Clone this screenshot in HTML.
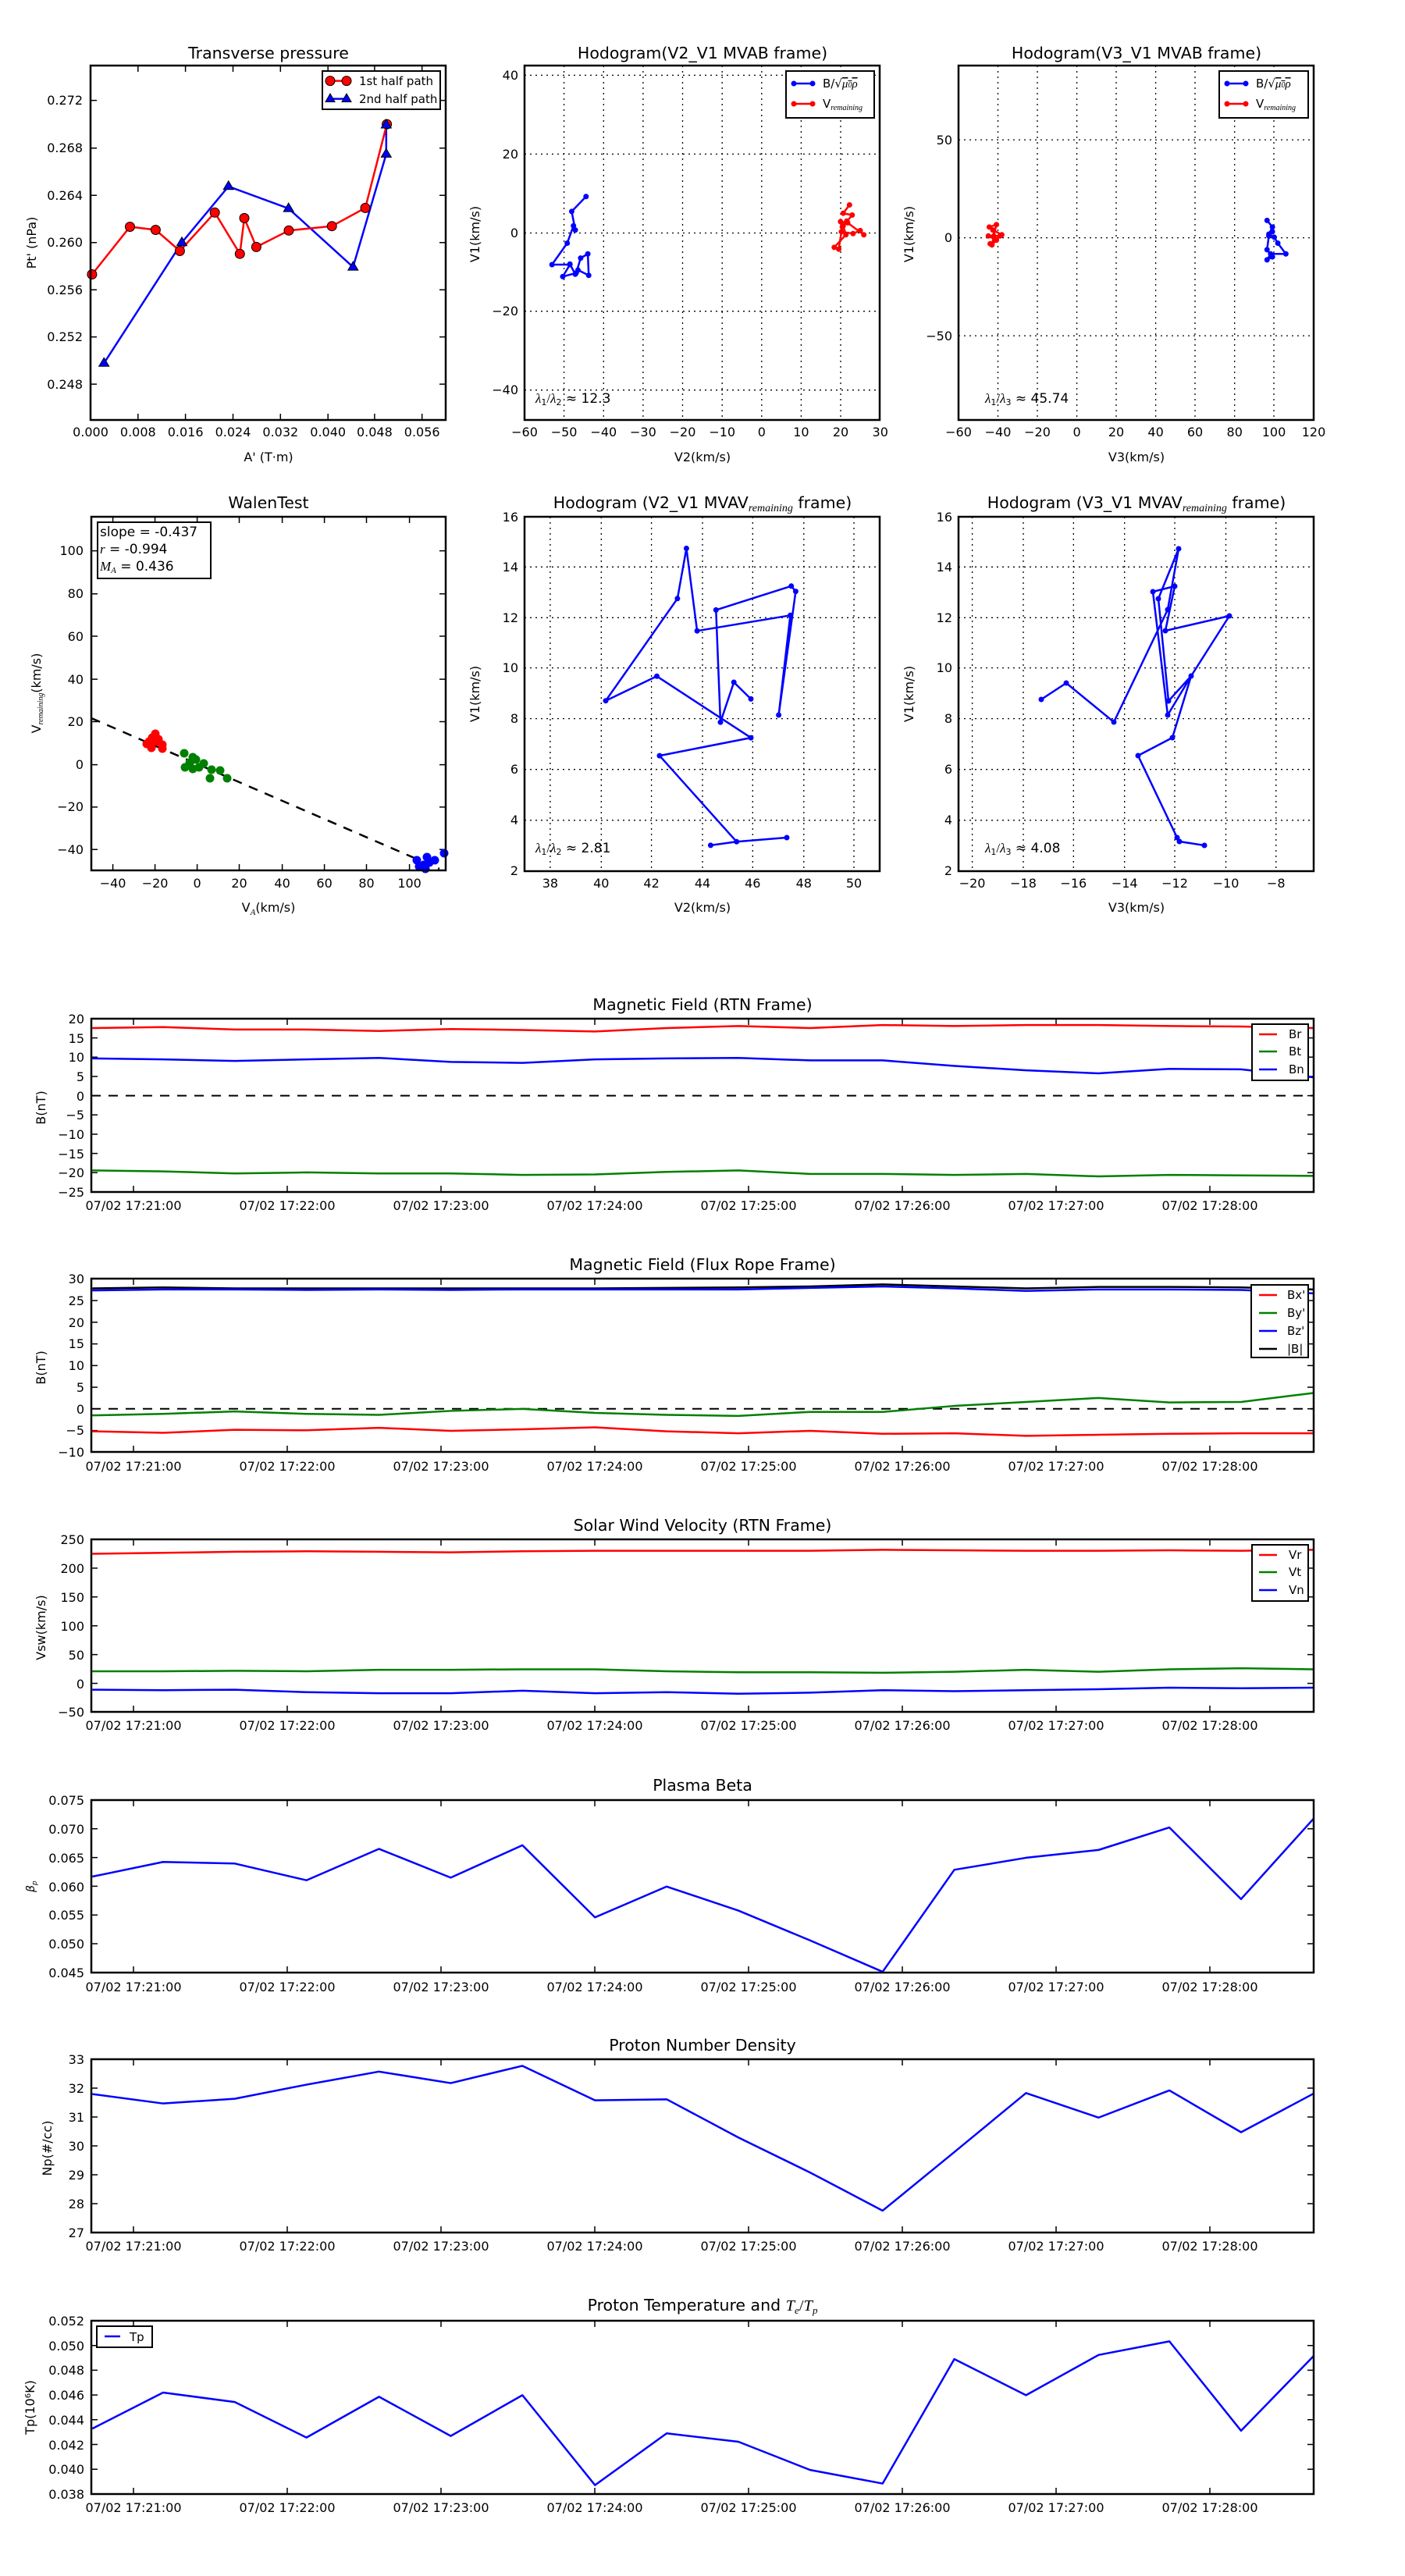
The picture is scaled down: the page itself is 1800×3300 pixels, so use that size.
<!DOCTYPE html>
<html><head><meta charset="utf-8"><style>
html,body{margin:0;padding:0;background:#fff;}
svg{display:block;}
text{font-family:"DejaVu Sans","Liberation Sans",sans-serif;fill:#000;}
.tk{font-size:16px;}
.ti{font-size:20.5px;text-anchor:middle;}
.lb{font-size:16px;text-anchor:middle;}
.ax{fill:none;stroke:#000;stroke-width:2.5;}
.ln{fill:none;stroke-width:2.5;vector-effect:non-scaling-stroke;stroke-linejoin:round;}
.gd{stroke:#000;stroke-width:1.3;stroke-dasharray:2,5;}
.tm{stroke:#000;stroke-width:1.5;}
.mk{fill:none;stroke-width:7;stroke-linecap:round;vector-effect:non-scaling-stroke;}
</style></head><body>
<svg width="1800" height="3300" viewBox="0 0 1800 3300" xmlns="http://www.w3.org/2000/svg">
<rect width="1800" height="3300" fill="#fff"/>

<!-- ============ P1 Transverse pressure ============ -->
<text class="ti" x="344" y="75">Transverse pressure</text>
<g class="tm">
<path d="M116 128.6h8M116 189.8h8M116 250.3h8M116 310.7h8M116 371.2h8M116 431.6h8M116 492.1h8"/>
<path d="M571 128.6h-8M571 189.8h-8M571 250.3h-8M571 310.7h-8M571 371.2h-8M571 431.6h-8M571 492.1h-8"/>
<path d="M176.8 538v-8M237.6 538v-8M298.5 538v-8M359.3 538v-8M420.2 538v-8M479.9 538v-8M540.7 538v-8"/>
<path d="M176.8 84v8M237.6 84v8M298.5 84v8M359.3 84v8M420.2 84v8M479.9 84v8M540.7 84v8"/>
</g>
<g class="tk" text-anchor="end">
<text x="106" y="134">0.272</text><text x="106" y="195">0.268</text><text x="106" y="256">0.264</text><text x="106" y="316">0.260</text><text x="106" y="377">0.256</text><text x="106" y="437">0.252</text><text x="106" y="498">0.248</text>
</g>
<g class="tk" text-anchor="middle">
<text x="116" y="559">0.000</text><text x="176.8" y="559">0.008</text><text x="237.6" y="559">0.016</text><text x="298.5" y="559">0.024</text><text x="359.3" y="559">0.032</text><text x="420.2" y="559">0.040</text><text x="479.9" y="559">0.048</text><text x="540.7" y="559">0.056</text>
</g>
<text class="lb" x="344" y="591">A' (T·m)</text>
<text class="lb" transform="translate(46,311) rotate(-90)">Pt' (nPa)</text>
<polyline fill="none" stroke="#00f" stroke-width="2.5" points="133.2,465.3 233,310.7 292.7,238.8 369.7,267.1 452.3,342.1 494.8,197.4 494.8,160"/>
<polyline fill="none" stroke="#f00" stroke-width="2.5" points="117.9,351.5 166.5,290.5 199.4,294.5 230.4,321.5 275.2,272.3 307.3,325.2 313,279.4 328.4,316.4 370,295.3 425.2,289.7 468,266.4 495.6,159.1"/>
<g fill="#f00" stroke="#000" stroke-width="1">
<circle cx="117.9" cy="351.5" r="6"/><circle cx="166.5" cy="290.5" r="6"/><circle cx="199.4" cy="294.5" r="6"/><circle cx="230.4" cy="321.5" r="6"/><circle cx="275.2" cy="272.3" r="6"/><circle cx="307.3" cy="325.2" r="6"/><circle cx="313" cy="279.4" r="6"/><circle cx="328.4" cy="316.4" r="6"/><circle cx="370" cy="295.3" r="6"/><circle cx="425.2" cy="289.7" r="6"/><circle cx="468" cy="266.4" r="6"/><circle cx="495.6" cy="159.1" r="6"/>
</g>
<g fill="#00f" stroke="#000" stroke-width="1">
<path d="M133.2 458.3l6.5 11h-13z"/><path d="M233 303.7l6.5 11h-13z"/><path d="M292.7 231.8l6.5 11h-13z"/><path d="M369.7 260.1l6.5 11h-13z"/><path d="M452.3 335.1l6.5 11h-13z"/><path d="M494.8 190.4l6.5 11h-13z"/><path d="M494.8 153l6.5 11h-13z"/>
</g>
<rect x="413" y="91" width="151" height="49" fill="#fff" stroke="#000" stroke-width="2"/>
<path d="M423 103.6h21" stroke="#f00" stroke-width="2.5"/>
<circle cx="423" cy="103.6" r="6" fill="#f00" stroke="#000"/><circle cx="444" cy="103.6" r="6" fill="#f00" stroke="#000"/>
<path d="M423 126.6h21" stroke="#00f" stroke-width="2.5"/>
<path d="M423 120l6 10.5h-12z M444 120l6 10.5h-12z" fill="#00f" stroke="#000"/>
<text x="460" y="109" font-size="15">1st half path</text>
<text x="460" y="132" font-size="15">2nd half path</text>
<rect class="ax" x="116" y="84" width="455" height="454"/>

<!-- ============ P2 Hodogram V2_V1 MVAB ============ -->
<text class="ti" x="900" y="75">Hodogram(V2_V1 MVAB frame)</text>
<g class="gd">
<path d="M722.6 84V538M773.3 84V538M823.9 84V538M874.5 84V538M925.2 84V538M975.8 84V538M1026.4 84V538M1077 84V538"/>
<path d="M672 96.4H1127M672 197.4H1127M672 298.5H1127M672 398.7H1127M672 499.7H1127"/>
</g>
<g class="tk" text-anchor="end">
<text x="664" y="102">40</text><text x="664" y="203">20</text><text x="664" y="304">0</text><text x="664" y="404">−20</text><text x="664" y="505">−40</text>
</g>
<g class="tk" text-anchor="middle">
<text x="672" y="559">−60</text><text x="722.6" y="559">−50</text><text x="773.3" y="559">−40</text><text x="823.9" y="559">−30</text><text x="874.5" y="559">−20</text><text x="925.2" y="559">−10</text><text x="975.8" y="559">0</text><text x="1026.4" y="559">10</text><text x="1077" y="559">20</text><text x="1127.7" y="559">30</text>
</g>
<text class="lb" x="900" y="591">V2(km/s)</text>
<text class="lb" transform="translate(614,300) rotate(-90)">V1(km/s)</text>
<g transform="scale(1.148,0.7653)">
<polyline class="ln" stroke="#00f" points="654,329 638,354 642,385 640,378 633,407 616,443 636,443 628,463 643,457 648,432 656,425 657,461 645,452 642,459 636,442"/>
<path class="mk" stroke="#00f" d="M654 329h0M638 354h0M642 385h0M640 378h0M633 407h0M616 443h0M636 443h0M628 463h0M643 457h0M648 432h0M656 425h0M657 461h0M645 452h0M642 459h0M636 442h0"/>
<polyline class="ln" stroke="#f00" points="948,343 941,357 951,360 941,378 944,393 931,414 936,417 939,388 952,391 960,386 964,393 946,373 938,371 940,380 945,370"/>
<path class="mk" stroke="#f00" d="M948 343h0M941 357h0M951 360h0M941 378h0M944 393h0M931 414h0M936 417h0M939 388h0M952 391h0M960 386h0M964 393h0M946 373h0M938 371h0M940 380h0M945 370h0"/>
</g>
<rect x="1007" y="91" width="113" height="60" fill="#fff" stroke="#000" stroke-width="2"/>
<path d="M1017 107h24" stroke="#00f" stroke-width="2.5"/><circle cx="1017" cy="107" r="3.5" fill="#00f"/><circle cx="1041" cy="107" r="3.5" fill="#00f"/>
<path d="M1017 133h24" stroke="#f00" stroke-width="2.5"/><circle cx="1017" cy="133" r="3.5" fill="#f00"/><circle cx="1041" cy="133" r="3.5" fill="#f00"/>
<text x="1054" y="112" font-size="15">B/√<tspan font-style="italic" font-family="Liberation Serif" text-decoration="overline">μ<tspan font-size="10">0</tspan>ρ</tspan></text>
<text x="1054" y="138" font-size="15">V<tspan font-size="10" font-style="italic" font-family="Liberation Serif" dy="3">remaining</tspan></text>
<text x="686" y="516" font-size="17"><tspan font-style="italic" font-family="Liberation Serif">λ</tspan><tspan font-size="11" dy="3">1</tspan><tspan dy="-3" font-family="Liberation Serif">/</tspan><tspan font-style="italic" font-family="Liberation Serif">λ</tspan><tspan font-size="11" dy="3">2</tspan><tspan dy="-3"> ≈ 12.3</tspan></text>
<rect class="ax" x="672" y="84" width="455" height="454"/>

<!-- ============ P3 Hodogram V3_V1 MVAB ============ -->
<text class="ti" x="1456" y="75">Hodogram(V3_V1 MVAB frame)</text>
<g class="gd">
<path d="M1278.5 84V538M1329 84V538M1379.6 84V538M1430 84V538M1480.6 84V538M1531 84V538M1581.7 84V538M1632 84V538"/>
<path d="M1228 179.1H1683M1228 304.6H1683M1228 430.1H1683"/>
</g>
<g class="tk" text-anchor="end">
<text x="1220" y="185">50</text><text x="1220" y="310">0</text><text x="1220" y="436">−50</text>
</g>
<g class="tk" text-anchor="middle">
<text x="1228" y="559">−60</text><text x="1278.5" y="559">−40</text><text x="1329" y="559">−20</text><text x="1379.6" y="559">0</text><text x="1430" y="559">20</text><text x="1480.6" y="559">40</text><text x="1531" y="559">60</text><text x="1581.7" y="559">80</text><text x="1632" y="559">100</text><text x="1683" y="559">120</text>
</g>
<text class="lb" x="1456" y="591">V3(km/s)</text>
<text class="lb" transform="translate(1170,300) rotate(-90)">V1(km/s)</text>
<g transform="scale(1.148,0.7653)">
<polyline class="ln" stroke="#00f" points="1414,369 1420,380 1416,392 1422,397 1426,407 1435,425 1418,425 1414,435 1420,430 1414,418 1416,395 1420,388"/>
<path class="mk" stroke="#00f" d="M1414 369h0M1420 380h0M1416 392h0M1422 397h0M1426 407h0M1435 425h0M1418 425h0M1414 435h0M1420 430h0M1414 418h0M1416 395h0M1420 388h0"/>
<polyline class="ln" stroke="#f00" points="1104,380 1112,376 1109,395 1107,410 1116,395 1103,395 1112,402 1108,385 1118,393 1105,408"/>
<path class="mk" stroke="#f00" d="M1104 380h0M1112 376h0M1109 395h0M1107 410h0M1116 395h0M1103 395h0M1112 402h0M1108 385h0M1118 393h0M1105 408h0"/>
</g>
<rect x="1562" y="91" width="114" height="60" fill="#fff" stroke="#000" stroke-width="2"/>
<path d="M1572 107h24" stroke="#00f" stroke-width="2.5"/><circle cx="1572" cy="107" r="3.5" fill="#00f"/><circle cx="1596" cy="107" r="3.5" fill="#00f"/>
<path d="M1572 133h24" stroke="#f00" stroke-width="2.5"/><circle cx="1572" cy="133" r="3.5" fill="#f00"/><circle cx="1596" cy="133" r="3.5" fill="#f00"/>
<text x="1609" y="112" font-size="15">B/√<tspan font-style="italic" font-family="Liberation Serif" text-decoration="overline">μ<tspan font-size="10">0</tspan>ρ</tspan></text>
<text x="1609" y="138" font-size="15">V<tspan font-size="10" font-style="italic" font-family="Liberation Serif" dy="3">remaining</tspan></text>
<text x="1262" y="516" font-size="17"><tspan font-style="italic" font-family="Liberation Serif">λ</tspan><tspan font-size="11" dy="3">1</tspan><tspan dy="-3" font-family="Liberation Serif">/</tspan><tspan font-style="italic" font-family="Liberation Serif">λ</tspan><tspan font-size="11" dy="3">3</tspan><tspan dy="-3"> ≈ 45.74</tspan></text>
<rect class="ax" x="1228" y="84" width="455" height="454"/>

<!-- ============ Walen ============ -->
<text class="ti" x="344" y="651">WalenTest</text>
<g class="tm">
<path d="M117 705.6h8M117 760.7h8M117 815h8M117 870.1h8M117 924.5h8M117 979.6h8M117 1033.9h8M117 1088.3h8"/>
<path d="M571 705.6h-8M571 760.7h-8M571 815h-8M571 870.1h-8M571 924.5h-8M571 979.6h-8M571 1033.9h-8M571 1088.3h-8"/>
<path d="M144.6 1115v-8M198.6 1115v-8M252.6 1115v-8M306.5 1115v-8M361.6 1115v-8M415.6 1115v-8M469.5 1115v-8M524.6 1115v-8"/>
<path d="M144.6 662v8M198.6 662v8M252.6 662v8M306.5 662v8M361.6 662v8M415.6 662v8M469.5 662v8M524.6 662v8"/>
</g>
<g class="tk" text-anchor="end">
<text x="107" y="711">100</text><text x="107" y="766">80</text><text x="107" y="821">60</text><text x="107" y="876">40</text><text x="107" y="930">20</text><text x="107" y="985">0</text><text x="107" y="1039">−20</text><text x="107" y="1094">−40</text>
</g>
<g class="tk" text-anchor="middle">
<text x="144.6" y="1137">−40</text><text x="198.6" y="1137">−20</text><text x="252.6" y="1137">0</text><text x="306.5" y="1137">20</text><text x="361.6" y="1137">40</text><text x="415.6" y="1137">60</text><text x="469.5" y="1137">80</text><text x="524.6" y="1137">100</text>
</g>
<text class="lb" x="344" y="1168">V<tspan font-size="11" font-style="italic" font-family="Liberation Serif" dy="4">A</tspan><tspan dy="-4">(km/s)</tspan></text>
<text class="lb" transform="translate(52,888) rotate(-90)">V<tspan font-size="10" font-style="italic" font-family="Liberation Serif" dy="3">remaining</tspan><tspan dy="-3">(km/s)</tspan></text>
<path d="M117 920L563 1113" stroke="#000" stroke-width="2.5" stroke-dasharray="12,10"/>
<g fill="#f00">
<circle cx="199" cy="940" r="5.5"/><circle cx="195" cy="945" r="5.5"/><circle cx="203" cy="947" r="5.5"/><circle cx="188" cy="953" r="5.5"/><circle cx="194" cy="958" r="5.5"/><circle cx="208" cy="954" r="5.5"/><circle cx="208" cy="959" r="5.5"/><circle cx="200" cy="950" r="5.5"/><circle cx="191" cy="950" r="5.5"/>
</g>
<g fill="#008000">
<circle cx="236" cy="965" r="5.5"/><circle cx="247" cy="970" r="5.5"/><circle cx="251" cy="973" r="5.5"/><circle cx="237" cy="983" r="5.5"/><circle cx="247" cy="985" r="5.5"/><circle cx="255" cy="983" r="5.5"/><circle cx="261" cy="978" r="5.5"/><circle cx="271" cy="986" r="5.5"/><circle cx="282" cy="987" r="5.5"/><circle cx="269" cy="997" r="5.5"/><circle cx="291" cy="997" r="5.5"/><circle cx="243" cy="977" r="5.5"/>
</g>
<g fill="#00f">
<circle cx="534" cy="1102" r="5.5"/><circle cx="547" cy="1098" r="5.5"/><circle cx="557" cy="1102" r="5.5"/><circle cx="543" cy="1108" r="5.5"/><circle cx="537" cy="1110" r="5.5"/><circle cx="550" cy="1105" r="5.5"/><circle cx="569" cy="1093" r="5.5"/><circle cx="545" cy="1113" r="5.5"/>
</g>
<rect x="125" y="669" width="145" height="72" fill="#fff" stroke="#000" stroke-width="2"/>
<text x="128" y="687" font-size="17">slope = -0.437</text>
<text x="128" y="709" font-size="17"><tspan font-style="italic" font-family="Liberation Serif">r</tspan> = -0.994</text>
<text x="128" y="731" font-size="17"><tspan font-style="italic" font-family="Liberation Serif">M</tspan><tspan font-size="11" font-style="italic" font-family="Liberation Serif" dy="3">A</tspan><tspan dy="-3"> = 0.436</tspan></text>
<rect class="ax" x="117" y="662" width="454" height="453"/>

<!-- ============ H2 row2 ============ -->
<text class="ti" x="900" y="651">Hodogram (V2_V1 MVAV<tspan font-size="14" font-style="italic" font-family="Liberation Serif" dy="4">remaining</tspan><tspan dy="-4"> frame)</tspan></text>
<g class="gd">
<path d="M704.9 662V1116M770.3 662V1116M834.6 662V1116M900 662V1116M964.3 662V1116M1029.8 662V1116M1094 662V1116"/>
<path d="M672 726.3H1127M672 791.3H1127M672 855.6H1127M672 920.6H1127M672 985.7H1127M672 1050.8H1127"/>
</g>
<g class="tk" text-anchor="end">
<text x="664" y="668">16</text><text x="664" y="732">14</text><text x="664" y="797">12</text><text x="664" y="861">10</text><text x="664" y="926">8</text><text x="664" y="991">6</text><text x="664" y="1056">4</text><text x="664" y="1121">2</text>
</g>
<g class="tk" text-anchor="middle">
<text x="704.9" y="1137">38</text><text x="770.3" y="1137">40</text><text x="834.6" y="1137">42</text><text x="900" y="1137">44</text><text x="964.3" y="1137">46</text><text x="1029.8" y="1137">48</text><text x="1094" y="1137">50</text>
</g>
<text class="lb" x="900" y="1168">V2(km/s)</text>
<text class="lb" transform="translate(614,889) rotate(-90)">V1(km/s)</text>
<polyline fill="none" stroke="#00f" stroke-width="2.5" stroke-linejoin="round" points="962,895.4 940.2,874 923,925.2 917.3,781.4 1013.7,750.8 1019.4,757.6 997.6,916 1012.5,788.3 893.1,808.2 879.4,702.5 867.9,766.8 776,897.7 841.5,866.3 962,945.1 845,968.1 943.7,1078.3 1008,1073"/>
<path d="M943.7 1078.3L910.4 1082.9" stroke="#00f" stroke-width="2.5"/>
<g fill="#00f"><circle cx="962" cy="895.4" r="3.5"/><circle cx="940.2" cy="874" r="3.5"/><circle cx="923" cy="925.2" r="3.5"/><circle cx="917.3" cy="781.4" r="3.5"/><circle cx="1013.7" cy="750.8" r="3.5"/><circle cx="1019.4" cy="757.6" r="3.5"/><circle cx="997.6" cy="916" r="3.5"/><circle cx="1012.5" cy="788.3" r="3.5"/><circle cx="893.1" cy="808.2" r="3.5"/><circle cx="879.4" cy="702.5" r="3.5"/><circle cx="867.9" cy="766.8" r="3.5"/><circle cx="776" cy="897.7" r="3.5"/><circle cx="841.5" cy="866.3" r="3.5"/><circle cx="962" cy="945.1" r="3.5"/><circle cx="845" cy="968.1" r="3.5"/><circle cx="943.7" cy="1078.3" r="3.5"/><circle cx="1008" cy="1073" r="3.5"/><circle cx="910.4" cy="1082.9" r="3.5"/></g>
<text x="686" y="1092" font-size="17"><tspan font-style="italic" font-family="Liberation Serif">λ</tspan><tspan font-size="11" dy="3">1</tspan><tspan dy="-3" font-family="Liberation Serif">/</tspan><tspan font-style="italic" font-family="Liberation Serif">λ</tspan><tspan font-size="11" dy="3">2</tspan><tspan dy="-3"> ≈ 2.81</tspan></text>
<rect class="ax" x="672" y="662" width="455" height="454"/>

<!-- ============ H3 row2 ============ -->
<text class="ti" x="1456" y="651">Hodogram (V3_V1 MVAV<tspan font-size="14" font-style="italic" font-family="Liberation Serif" dy="4">remaining</tspan><tspan dy="-4"> frame)</tspan></text>
<g class="gd">
<path d="M1245.6 662V1116M1311 662V1116M1375.3 662V1116M1440.7 662V1116M1505 662V1116M1570.5 662V1116M1634.8 662V1116"/>
<path d="M1228 726.3H1683M1228 791.3H1683M1228 855.6H1683M1228 920.6H1683M1228 985.7H1683M1228 1050.8H1683"/>
</g>
<g class="tk" text-anchor="end">
<text x="1220" y="668">16</text><text x="1220" y="732">14</text><text x="1220" y="797">12</text><text x="1220" y="861">10</text><text x="1220" y="926">8</text><text x="1220" y="991">6</text><text x="1220" y="1056">4</text><text x="1220" y="1121">2</text>
</g>
<g class="tk" text-anchor="middle">
<text x="1245.6" y="1137">−20</text><text x="1311" y="1137">−18</text><text x="1375.3" y="1137">−16</text><text x="1440.7" y="1137">−14</text><text x="1505" y="1137">−12</text><text x="1570.5" y="1137">−10</text><text x="1634.8" y="1137">−8</text>
</g>
<text class="lb" x="1456" y="1168">V3(km/s)</text>
<text class="lb" transform="translate(1170,889) rotate(-90)">V1(km/s)</text>
<polyline fill="none" stroke="#00f" stroke-width="2.5" stroke-linejoin="round" points="1334,896 1366,875 1427,925 1496,781 1510,703 1484,767 1497,898 1526,866 1496,916 1477,758 1505,751 1493,808 1575,789 1526,866 1502,945 1458,968 1508,1073 1511,1078 1543,1083"/>
<g fill="#00f"><circle cx="1334" cy="896" r="3.5"/><circle cx="1366" cy="875" r="3.5"/><circle cx="1427" cy="925" r="3.5"/><circle cx="1496" cy="781" r="3.5"/><circle cx="1510" cy="703" r="3.5"/><circle cx="1484" cy="767" r="3.5"/><circle cx="1497" cy="898" r="3.5"/><circle cx="1526" cy="866" r="3.5"/><circle cx="1496" cy="916" r="3.5"/><circle cx="1477" cy="758" r="3.5"/><circle cx="1505" cy="751" r="3.5"/><circle cx="1493" cy="808" r="3.5"/><circle cx="1575" cy="789" r="3.5"/><circle cx="1502" cy="945" r="3.5"/><circle cx="1458" cy="968" r="3.5"/><circle cx="1508" cy="1073" r="3.5"/><circle cx="1511" cy="1078" r="3.5"/><circle cx="1543" cy="1083" r="3.5"/></g>
<text x="1262" y="1092" font-size="17"><tspan font-style="italic" font-family="Liberation Serif">λ</tspan><tspan font-size="11" dy="3">1</tspan><tspan dy="-3" font-family="Liberation Serif">/</tspan><tspan font-style="italic" font-family="Liberation Serif">λ</tspan><tspan font-size="11" dy="3">3</tspan><tspan dy="-3"> ≈ 4.08</tspan></text>
<rect class="ax" x="1228" y="662" width="455" height="454"/>

<!-- ============ Time series common x ticks ============ -->
<g class="tm">
<path d="M171 1305v8M368 1305v8M565 1305v8M762 1305v8M959 1305v8M1156 1305v8M1353 1305v8M1550 1305v8 M171 1527v-8M368 1527v-8M565 1527v-8M762 1527v-8M959 1527v-8M1156 1527v-8M1353 1527v-8M1550 1527v-8"/>
<path d="M171 1638v8M368 1638v8M565 1638v8M762 1638v8M959 1638v8M1156 1638v8M1353 1638v8M1550 1638v8 M171 1860v-8M368 1860v-8M565 1860v-8M762 1860v-8M959 1860v-8M1156 1860v-8M1353 1860v-8M1550 1860v-8"/>
<path d="M171 1972v8M368 1972v8M565 1972v8M762 1972v8M959 1972v8M1156 1972v8M1353 1972v8M1550 1972v8 M171 2193v-8M368 2193v-8M565 2193v-8M762 2193v-8M959 2193v-8M1156 2193v-8M1353 2193v-8M1550 2193v-8"/>
<path d="M171 2306v8M368 2306v8M565 2306v8M762 2306v8M959 2306v8M1156 2306v8M1353 2306v8M1550 2306v8 M171 2527v-8M368 2527v-8M565 2527v-8M762 2527v-8M959 2527v-8M1156 2527v-8M1353 2527v-8M1550 2527v-8"/>
<path d="M171 2638v8M368 2638v8M565 2638v8M762 2638v8M959 2638v8M1156 2638v8M1353 2638v8M1550 2638v8 M171 2860v-8M368 2860v-8M565 2860v-8M762 2860v-8M959 2860v-8M1156 2860v-8M1353 2860v-8M1550 2860v-8"/>
<path d="M171 2973v8M368 2973v8M565 2973v8M762 2973v8M959 2973v8M1156 2973v8M1353 2973v8M1550 2973v8 M171 3195v-8M368 3195v-8M565 3195v-8M762 3195v-8M959 3195v-8M1156 3195v-8M1353 3195v-8M1550 3195v-8"/>
</g>
<g class="tk" text-anchor="middle">
<text x="171" y="1550">07/02 17:21:00</text><text x="368" y="1550">07/02 17:22:00</text><text x="565" y="1550">07/02 17:23:00</text><text x="762" y="1550">07/02 17:24:00</text><text x="959" y="1550">07/02 17:25:00</text><text x="1156" y="1550">07/02 17:26:00</text><text x="1353" y="1550">07/02 17:27:00</text><text x="1550" y="1550">07/02 17:28:00</text>
<text x="171" y="1884">07/02 17:21:00</text><text x="368" y="1884">07/02 17:22:00</text><text x="565" y="1884">07/02 17:23:00</text><text x="762" y="1884">07/02 17:24:00</text><text x="959" y="1884">07/02 17:25:00</text><text x="1156" y="1884">07/02 17:26:00</text><text x="1353" y="1884">07/02 17:27:00</text><text x="1550" y="1884">07/02 17:28:00</text>
<text x="171" y="2216">07/02 17:21:00</text><text x="368" y="2216">07/02 17:22:00</text><text x="565" y="2216">07/02 17:23:00</text><text x="762" y="2216">07/02 17:24:00</text><text x="959" y="2216">07/02 17:25:00</text><text x="1156" y="2216">07/02 17:26:00</text><text x="1353" y="2216">07/02 17:27:00</text><text x="1550" y="2216">07/02 17:28:00</text>
<text x="171" y="2551">07/02 17:21:00</text><text x="368" y="2551">07/02 17:22:00</text><text x="565" y="2551">07/02 17:23:00</text><text x="762" y="2551">07/02 17:24:00</text><text x="959" y="2551">07/02 17:25:00</text><text x="1156" y="2551">07/02 17:26:00</text><text x="1353" y="2551">07/02 17:27:00</text><text x="1550" y="2551">07/02 17:28:00</text>
<text x="171" y="2883">07/02 17:21:00</text><text x="368" y="2883">07/02 17:22:00</text><text x="565" y="2883">07/02 17:23:00</text><text x="762" y="2883">07/02 17:24:00</text><text x="959" y="2883">07/02 17:25:00</text><text x="1156" y="2883">07/02 17:26:00</text><text x="1353" y="2883">07/02 17:27:00</text><text x="1550" y="2883">07/02 17:28:00</text>
<text x="171" y="3218">07/02 17:21:00</text><text x="368" y="3218">07/02 17:22:00</text><text x="565" y="3218">07/02 17:23:00</text><text x="762" y="3218">07/02 17:24:00</text><text x="959" y="3218">07/02 17:25:00</text><text x="1156" y="3218">07/02 17:26:00</text><text x="1353" y="3218">07/02 17:27:00</text><text x="1550" y="3218">07/02 17:28:00</text>
</g>

<!-- ============ RTN B ============ -->
<text class="ti" x="900" y="1294">Magnetic Field (RTN Frame)</text>
<g class="tk" text-anchor="end">
<text x="108" y="1311">20</text><text x="108" y="1336">15</text><text x="108" y="1360">10</text><text x="108" y="1385">5</text><text x="108" y="1410">0</text><text x="108" y="1434">−5</text><text x="108" y="1459">−10</text><text x="108" y="1484">−15</text><text x="108" y="1508">−20</text><text x="108" y="1533">−25</text>
</g>
<g class="tm">
<path d="M117 1329.6h8M117 1354.3h8M117 1379h8M117 1403.6h8M117 1428.3h8M117 1453h8M117 1477.6h8M117 1502.3h8 M1683 1329.6h-8M1683 1354.3h-8M1683 1379h-8M1683 1403.6h-8M1683 1428.3h-8M1683 1453h-8M1683 1477.6h-8M1683 1502.3h-8"/>
</g>
<text class="lb" font-size="15" transform="translate(58,1419) rotate(-90)">B(nT)</text>
<path d="M117 1403.6H1683" stroke="#000" stroke-width="2" stroke-dasharray="12,10"/>
<g transform="translate(0,1250) scale(1.148,0.6378)">
<polyline class="ln" stroke="#f00" points="103,105 182,103 262,108 342,108 423,111 503,107 583,109 664,112 744,105 824,101 904,105 985,99 1065,101 1145,99 1226,99 1305,101 1385,102 1466,105"/>
<polyline class="ln" stroke="#008000" points="103,391 182,393 262,397 342,395 423,397 503,397 583,400 664,399 744,394 824,391 904,398 985,398 1065,400 1145,398 1226,403 1305,400 1385,401 1466,402"/>
<polyline class="ln" stroke="#00f" points="103,166 182,168 262,171 342,168 423,165 503,173 583,175 664,168 744,166 824,165 904,170 985,170 1065,181 1145,190 1226,196 1305,187 1385,188 1466,204"/>
</g>
<rect x="1604" y="1312" width="72" height="72" fill="#fff" stroke="#000" stroke-width="2"/>
<path d="M1613 1325h23" stroke="#f00" stroke-width="2.5"/><path d="M1613 1347h23" stroke="#008000" stroke-width="2.5"/><path d="M1613 1370h23" stroke="#00f" stroke-width="2.5"/>
<g font-size="15"><text x="1651" y="1330">Br</text><text x="1651" y="1352">Bt</text><text x="1651" y="1375">Bn</text></g>
<rect class="ax" x="117" y="1305" width="1566" height="222"/>

<!-- ============ Flux rope B ============ -->
<text class="ti" x="900" y="1627">Magnetic Field (Flux Rope Frame)</text>
<g class="tk" text-anchor="end">
<text x="108" y="1644">30</text><text x="108" y="1672">25</text><text x="108" y="1700">20</text><text x="108" y="1727">15</text><text x="108" y="1755">10</text><text x="108" y="1783">5</text><text x="108" y="1811">0</text><text x="108" y="1838">−5</text><text x="108" y="1866">−10</text>
</g>
<g class="tm">
<path d="M117 1666.1h8M117 1693.9h8M117 1721.6h8M117 1749.4h8M117 1777.1h8M117 1804.8h8M117 1832.6h8 M1683 1666.1h-8M1683 1693.9h-8M1683 1721.6h-8M1683 1749.4h-8M1683 1777.1h-8M1683 1804.8h-8M1683 1832.6h-8"/>
</g>
<text class="lb" font-size="15" transform="translate(58,1752) rotate(-90)">B(nT)</text>
<path d="M117 1804.8H1683" stroke="#000" stroke-width="2" stroke-dasharray="12,10"/>
<g transform="translate(0,1250) scale(1.148,0.6378)">
<polyline class="ln" stroke="#000" points="103,628 182,626 262,628 342,628 423,628 503,628 583,628 664,628 744,627 824,626 904,624 985,620 1065,624 1145,628 1226,625 1305,625 1385,626 1466,630"/>
<polyline class="ln" stroke="#00f" points="103,632 182,630 262,630 342,631 423,630 503,631 583,630 664,630 744,630 824,630 904,627 985,624 1065,628 1145,633 1226,630 1305,630 1385,631 1466,638"/>
<polyline class="ln" stroke="#008000" points="103,883 182,880 262,875 342,880 423,882 503,874 583,870 664,878 744,882 824,884 904,876 985,876 1065,864 1145,856 1226,848 1305,857 1385,856 1466,838"/>
<polyline class="ln" stroke="#f00" points="103,915 182,918 262,912 342,913 423,908 503,914 583,911 664,907 744,915 824,919 904,914 985,920 1065,919 1145,924 1226,922 1305,920 1385,919 1466,919"/>
</g>
<rect x="1603" y="1646" width="73" height="93" fill="#fff" stroke="#000" stroke-width="2"/>
<path d="M1613 1659h23" stroke="#f00" stroke-width="2.5"/><path d="M1613 1682h23" stroke="#008000" stroke-width="2.5"/><path d="M1613 1705h23" stroke="#00f" stroke-width="2.5"/><path d="M1613 1728h23" stroke="#000" stroke-width="2.5"/>
<g font-size="15"><text x="1649" y="1664">Bx'</text><text x="1649" y="1687">By'</text><text x="1649" y="1710">Bz'</text><text x="1649" y="1733">|B|</text></g>
<rect class="ax" x="117" y="1638" width="1566" height="222"/>

<!-- ============ Velocity ============ -->
<text class="ti" x="900" y="1961">Solar Wind Velocity (RTN Frame)</text>
<g class="tk" text-anchor="end">
<text x="108" y="1978">250</text><text x="108" y="2015">200</text><text x="108" y="2052">150</text><text x="108" y="2089">100</text><text x="108" y="2126">50</text><text x="108" y="2163">0</text><text x="108" y="2199">−50</text>
</g>
<g class="tm">
<path d="M117 2008.9h8M117 2045.8h8M117 2082.7h8M117 2119.6h8M117 2156.5h8 M1683 2008.9h-8M1683 2045.8h-8M1683 2082.7h-8M1683 2119.6h-8M1683 2156.5h-8"/>
</g>
<text class="lb" font-size="15" transform="translate(58,2085) rotate(-90)">Vsw(km/s)</text>
<g transform="translate(0,1250) scale(1.148,0.6378)">
<polyline class="ln" stroke="#f00" points="103,1161 182,1159 262,1157 342,1156 423,1157 503,1158 583,1156 664,1155 744,1155 824,1155 904,1155 985,1153 1065,1154 1145,1155 1226,1155 1305,1154 1385,1155 1466,1153"/>
<polyline class="ln" stroke="#008000" points="103,1397 182,1397 262,1396 342,1397 423,1394 503,1394 583,1393 664,1393 744,1397 824,1399 904,1399 985,1400 1065,1398 1145,1394 1226,1398 1305,1393 1385,1391 1466,1393"/>
<polyline class="ln" stroke="#00f" points="103,1434 182,1435 262,1434 342,1439 423,1441 503,1441 583,1436 664,1441 744,1439 824,1442 904,1440 985,1435 1065,1437 1145,1435 1226,1433 1305,1430 1385,1431 1466,1430"/>
</g>
<rect x="1604" y="1979" width="72" height="72" fill="#fff" stroke="#000" stroke-width="2"/>
<path d="M1613 1992h23" stroke="#f00" stroke-width="2.5"/><path d="M1613 2014h23" stroke="#008000" stroke-width="2.5"/><path d="M1613 2037h23" stroke="#00f" stroke-width="2.5"/>
<g font-size="15"><text x="1651" y="1997">Vr</text><text x="1651" y="2019">Vt</text><text x="1651" y="2042">Vn</text></g>
<rect class="ax" x="117" y="1972" width="1566" height="221"/>

<!-- ============ Plasma beta ============ -->
<text class="ti" x="900" y="2294">Plasma Beta</text>
<g class="tk" text-anchor="end">
<text x="108" y="2312">0.075</text><text x="108" y="2349">0.070</text><text x="108" y="2386">0.065</text><text x="108" y="2423">0.060</text><text x="108" y="2459">0.055</text><text x="108" y="2496">0.050</text><text x="108" y="2533">0.045</text>
</g>
<g class="tm">
<path d="M117 2342.8h8M117 2379.6h8M117 2416.4h8M117 2453.2h8M117 2490h8 M1683 2342.8h-8M1683 2379.6h-8M1683 2416.4h-8M1683 2453.2h-8M1683 2490h-8"/>
</g>
<text font-size="14" fill="#444" font-style="italic" font-family="Liberation Serif" transform="translate(44,2424) rotate(-90)">β<tspan font-size="9" dy="3">p</tspan></text>
<g transform="translate(0,2250) scale(1.148,0.6697)">
<polyline class="ln" stroke="#00f" points="103,230 182,202 262,205 342,237 423,177 503,232 583,170 664,308 744,249 824,295 904,352 985,412 1065,217 1145,194 1226,179 1305,136 1385,273 1466,119"/>
</g>
<rect class="ax" x="117" y="2306" width="1566" height="221"/>

<!-- ============ Density ============ -->
<text class="ti" x="900" y="2627">Proton Number Density</text>
<g class="tk" text-anchor="end">
<text x="108" y="2644">33</text><text x="108" y="2681">32</text><text x="108" y="2718">31</text><text x="108" y="2755">30</text><text x="108" y="2792">29</text><text x="108" y="2829">28</text><text x="108" y="2866">27</text>
</g>
<g class="tm">
<path d="M117 2675h8M117 2712h8M117 2749h8M117 2786h8M117 2823h8 M1683 2675h-8M1683 2712h-8M1683 2749h-8M1683 2786h-8M1683 2823h-8"/>
</g>
<text class="lb" font-size="15" transform="translate(66,2752) rotate(-90)">Np(#/cc)</text>
<g transform="translate(0,2250) scale(1.148,0.6697)">
<polyline class="ln" stroke="#00f" points="103,646 182,664 262,655 342,628 423,603 503,625 583,592 664,658 744,656 824,729 904,796 985,869 1065,757 1145,644 1226,691 1305,639 1385,719 1466,645"/>
</g>
<rect class="ax" x="117" y="2638" width="1566" height="222"/>

<!-- ============ Temperature ============ -->
<text class="ti" x="900" y="2960">Proton Temperature and <tspan font-style="italic" font-family="Liberation Serif">T</tspan><tspan font-size="13" font-style="italic" font-family="Liberation Serif" dy="4">e</tspan><tspan dy="-4" font-family="Liberation Serif">/</tspan><tspan font-style="italic" font-family="Liberation Serif">T</tspan><tspan font-size="13" font-style="italic" font-family="Liberation Serif" dy="4">p</tspan></text>
<g class="tk" text-anchor="end">
<text x="108" y="2979">0.052</text><text x="108" y="3011">0.050</text><text x="108" y="3042">0.048</text><text x="108" y="3074">0.046</text><text x="108" y="3106">0.044</text><text x="108" y="3138">0.042</text><text x="108" y="3169">0.040</text><text x="108" y="3201">0.038</text>
</g>
<g class="tm">
<path d="M117 3004.7h8M117 3036.4h8M117 3068.1h8M117 3099.8h8M117 3131.5h8M117 3163.2h8 M1683 3004.7h-8M1683 3036.4h-8M1683 3068.1h-8M1683 3099.8h-8M1683 3131.5h-8M1683 3163.2h-8"/>
</g>
<text class="lb" font-size="15" transform="translate(44,3084) rotate(-90)">Tp(10<tspan font-size="10" dy="-5">6</tspan><tspan dy="5">K)</tspan></text>
<g transform="translate(0,2250) scale(1.148,0.6697)">
<polyline class="ln" stroke="#00f" points="103,1286 182,1217 262,1235 342,1303 423,1225 503,1300 583,1222 664,1394 744,1295 824,1311 904,1365 985,1391 1065,1153 1145,1222 1226,1145 1305,1119 1385,1290 1466,1147"/>
</g>
<rect x="124" y="2980" width="71" height="27" fill="#fff" stroke="#000" stroke-width="2"/>
<path d="M134 2993h20" stroke="#00f" stroke-width="2.5"/>
<text x="166" y="2999" font-size="15">Tp</text>
<rect class="ax" x="117" y="2973" width="1566" height="222"/>
</svg>
</body></html>
